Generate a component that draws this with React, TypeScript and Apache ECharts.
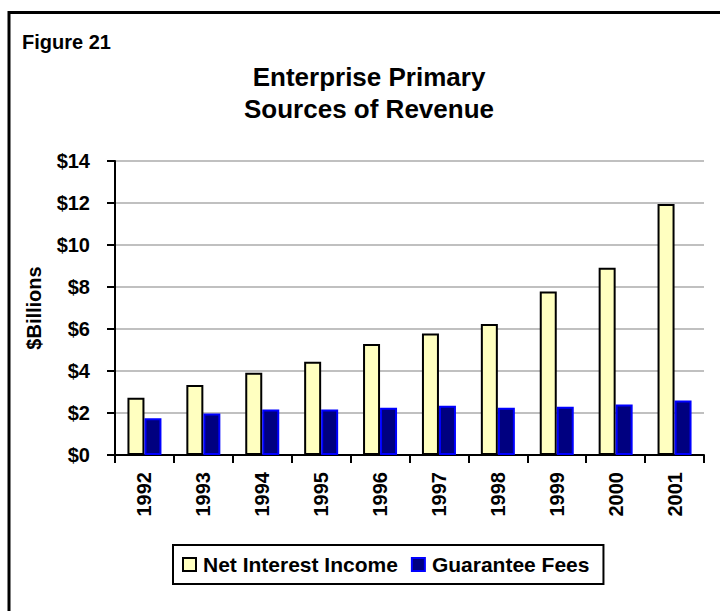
import React, { useEffect, useRef } from "react";
import * as echarts from "echarts";

const years = ["1992", "1993", "1994", "1995", "1996", "1997", "1998", "1999", "2000", "2001"];
const netInterestIncome = [2.73, 3.33, 3.92, 4.44, 5.29, 5.79, 6.24, 7.78, 8.92, 11.95];
const guaranteeFees = [1.75, 1.98, 2.17, 2.17, 2.25, 2.35, 2.25, 2.3, 2.41, 2.6];
const seriesNames = ["Net Interest Income", "Guarantee Fees"];
const titleLines = ["Enterprise Primary", "Sources of Revenue"];
const figureLabel = "Figure 21";
const yAxisName = "$Billions";

const FONT = "'Liberation Sans', Arial, Helvetica, sans-serif";

export default function App() {
  const ref = useRef<HTMLDivElement>(null);
  useEffect(() => {
    if (!ref.current) return;
    const chart = echarts.init(ref.current, null, { renderer: "svg" });
    chart.setOption({
      animation: false,
      backgroundColor: "#ffffff",
      textStyle: { fontFamily: FONT },
      grid: { left: 115, right: 16, top: 161, bottom: 156, containLabel: false },
      legend: {
        left: 173,
        top: 545,
        orient: "horizontal",
        padding: [9, 14, 9, 9],
        itemGap: 13,
        itemWidth: 13,
        itemHeight: 13,
        borderColor: "#000",
        borderWidth: 2,
        borderRadius: 0,
        textStyle: { fontSize: 21, fontWeight: "bold", color: "#000", fontFamily: FONT, padding: [0, 0, 0, 2] },
        data: seriesNames.map((n) => ({ name: n, icon: "rect" })),
      },
      xAxis: {
        type: "category",
        data: years,
        axisLine: { lineStyle: { color: "#000", width: 2 } },
        axisTick: { show: true, length: 8, lineStyle: { color: "#000", width: 2 } },
        axisLabel: {
          rotate: 90,
          margin: 17,
          fontSize: 20,
          fontWeight: "bold",
          color: "#000",
          fontFamily: FONT,
        },
      },
      yAxis: {
        type: "value",
        min: 0,
        max: 14,
        interval: 2,
        name: yAxisName,
        nameLocation: "middle",
        nameGap: 71,
        nameTextStyle: { fontSize: 20, fontWeight: "bold", color: "#000", fontFamily: FONT },
        axisLine: { show: true, lineStyle: { color: "#000", width: 2 } },
        axisTick: { show: true, length: 8, lineStyle: { color: "#000", width: 2 } },
        axisLabel: {
          margin: 25,
          fontSize: 20,
          fontWeight: "bold",
          color: "#000",
          fontFamily: FONT,
          formatter: (v: number) => "$" + v,
        },
        splitLine: { show: true, lineStyle: { color: "#c0c0c0", width: 2 } },
      },
      series: [
        {
          name: seriesNames[0],
          type: "bar",
          data: netInterestIncome,
          barWidth: 17,
          barGap: "0%",
          itemStyle: { color: "#ffffc0", borderColor: "#000", borderWidth: 2 },
        },
        {
          name: seriesNames[1],
          type: "bar",
          data: guaranteeFees,
          barWidth: 17,
          barGap: "0%",
          itemStyle: { color: "#000080", borderColor: "#0000ff", borderWidth: 2 },
        },
      ],
      graphic: [
        {
          type: "rect",
          shape: { x: 9, y: 12.5, width: 1000, height: 1000 },
          style: { fill: "none", stroke: "#000", lineWidth: 3 },
          silent: true,
        },
        {
          type: "text",
          x: 22,
          y: 42,
          style: {
            text: figureLabel,
            fill: "#000",
            font: `bold 20px ${FONT}`,
            textAlign: "left",
            textVerticalAlign: "middle",
          },
        },
        {
          type: "text",
          x: 369,
          y: 77,
          style: {
            text: titleLines[0],
            fill: "#000",
            font: `bold 26px ${FONT}`,
            textAlign: "center",
            textVerticalAlign: "middle",
          },
        },
        {
          type: "text",
          x: 369,
          y: 109,
          style: {
            text: titleLines[1],
            fill: "#000",
            font: `bold 26px ${FONT}`,
            textAlign: "center",
            textVerticalAlign: "middle",
          },
        },
      ],
    });
    return () => chart.dispose();
  }, []);
  return (
    <div
      ref={ref}
      style={{ position: "fixed", left: 0, top: 0, width: 720, height: 611, background: "#fff" }}
    />
  );
}
